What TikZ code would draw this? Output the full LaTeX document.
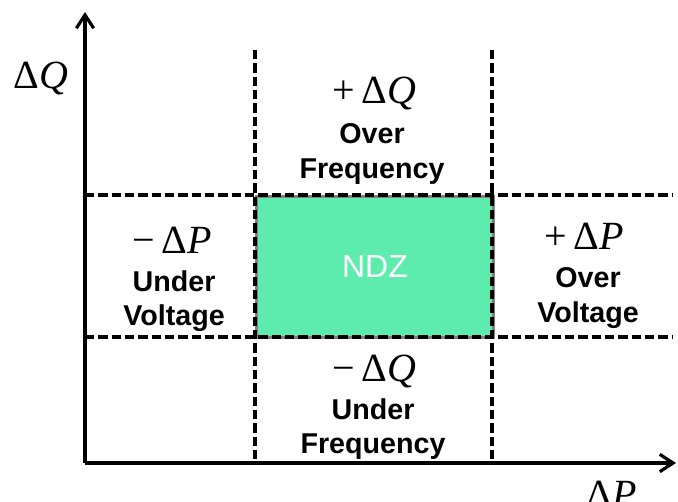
\documentclass[tikz,border=0pt]{standalone}
\usepackage{fontspec}
\setmainfont{Liberation Sans}
\newfontfamily\serifm{Liberation Serif}
\usetikzlibrary{arrows.meta}
\definecolor{ndzgreen}{RGB}{94,236,174}
\definecolor{ndzborder}{RGB}{128,128,128}
\tikzset{
  axisline/.style={line width=2.4pt, -{Straight Barb[length=10pt,width=13pt,line width=2.4pt]}},
  gridline/.style={line width=2.4pt, dash pattern=on 7pt off 3pt},
  lbl/.style={font=\fontsize{21.5}{26}\selectfont\bfseries, align=center, inner sep=0pt},
  mth/.style={font=\fontsize{30}{32}\selectfont\serifm, inner sep=0pt}
}
\begin{document}
\begin{tikzpicture}[x=0.75pt,y=-0.75pt]
\useasboundingbox (0,0) rectangle (678,501);
\coordinate (o) at (85,463);
\coordinate (ytip) at (85,12);
\coordinate (xtip) at (676,463);
% NDZ box
\node[draw=ndzborder, line width=2.2pt, fill=ndzgreen, minimum width=237*0.75pt, minimum height=141*0.75pt, anchor=north west, inner sep=0pt] (ndz) at (255,195) {};
\node[font=\fontsize{24}{26}\selectfont, text=white] (ndzt) at (ndz.center) {NDZ};
% grid lines
\coordinate (v1t) at (255,50); \coordinate (v1b) at (255,463);
\coordinate (v2t) at (492,50); \coordinate (v2b) at (492,463);
\coordinate (h1l) at (85,195); \coordinate (h1r) at (672,195);
\coordinate (h2l) at (85,337); \coordinate (h2r) at (672,337);
\draw[gridline] (v1t) -- (v1b);
\draw[gridline] (v2t) -- (v2b);
\draw[gridline] (h1l) -- (h1r);
\draw[gridline] (h2l) -- (h2r);
% axes
\draw[axisline] (o) -- (ytip);
\draw[axisline] (o) -- (xtip);
\node[mth] (dq) at (41,78) {Δ\textit{Q}};
\node[mth] (dp) at (612,494) {Δ\textit{P}};
% labels
\node[mth] (pq) at (374,93) {+\,Δ\textit{Q}};
\node[lbl] (top) at (372,154) {Over\\Frequency};
\node[mth] (mp) at (172,240) {−\,Δ\textit{P}};
\node[lbl] (left) at (174,301) {Under\\Voltage};
\node[mth] (pp) at (584,236) {+\,Δ\textit{P}};
\node[lbl] (right) at (588,298) {Over\\Voltage};
\node[mth] (mq) at (374,371) {−\,Δ\textit{Q}};
\node[lbl] (bot) at (373,429) {Under\\Frequency};
\end{tikzpicture}
\end{document}
